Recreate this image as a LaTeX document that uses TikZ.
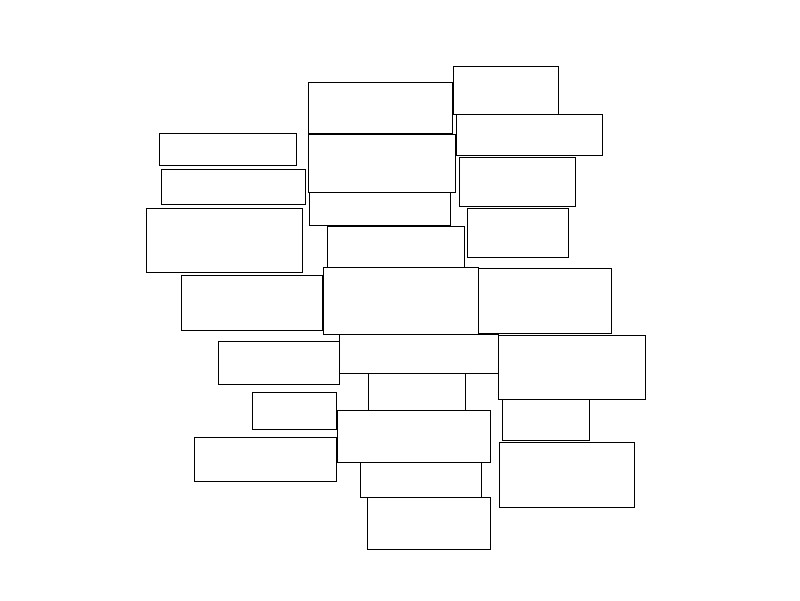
\documentclass[tikz,border=0pt]{standalone}
\begin{document}
\begin{tikzpicture}[x=1pt,y=-1pt,
  box/.style={draw=black, line width=1pt, inner sep=0pt, outer sep=0pt, anchor=north west}]
\useasboundingbox[fill=white] (0,0) rectangle (800,600);
% left column
\node[box, minimum width=137.4pt, minimum height=32pt] (r1) at (159.5,133.5) {};
\node[box, minimum width=144.4pt, minimum height=35pt] (r2) at (161.5,169.5) {};
\node[box, minimum width=156.4pt, minimum height=64pt] (r3) at (146.5,208.5) {};
\node[box, minimum width=141.4pt, minimum height=55pt] (r4) at (181.5,275.5) {};
\node[box, minimum width=121pt, minimum height=43pt] (r5) at (218.5,341.5) {};
\node[box, minimum width=84pt, minimum height=37pt] (r6) at (252.5,392.5) {};
\node[box, minimum width=142pt, minimum height=44pt] (r7) at (194.5,437.5) {};
% middle column
\node[box, minimum width=144pt, minimum height=51pt] (r8) at (308.5,82.5) {};
\node[box, minimum width=147pt, minimum height=58pt] (r9) at (308.5,134.5) {};
\node[box, minimum width=141pt, minimum height=32.7pt] (r10) at (309.5,192.5) {};
\node[box, minimum width=137pt, minimum height=41pt] (r11) at (327.5,226.5) {};
\node[box, minimum width=155pt, minimum height=67pt] (r12) at (323.5,267.5) {};
\node[box, minimum width=159pt, minimum height=39pt] (r13) at (339.5,334.5) {};
\node[box, minimum width=97pt, minimum height=37pt] (r14) at (368.5,373.5) {};
\node[box, minimum width=153.3pt, minimum height=52pt] (r15) at (337.2,410.5) {};
\node[box, minimum width=121pt, minimum height=35pt] (r16) at (360.5,462.5) {};
\node[box, minimum width=123pt, minimum height=52pt] (r17) at (367.5,497.5) {};
% right column
\node[box, minimum width=105pt, minimum height=47.7pt] (r18) at (453.5,66.5) {};
\node[box, minimum width=146pt, minimum height=41pt] (r19) at (456.5,114.5) {};
\node[box, minimum width=116pt, minimum height=49pt] (r20) at (459.5,157.5) {};
\node[box, minimum width=101pt, minimum height=49pt] (r21) at (467.5,208.5) {};
\node[box, minimum width=133pt, minimum height=65pt] (r22) at (478.5,268.5) {};
\node[box, minimum width=147pt, minimum height=64pt] (r23) at (498.5,335.5) {};
\node[box, minimum width=87pt, minimum height=41pt] (r24) at (502.5,399.5) {};
\node[box, minimum width=135pt, minimum height=65pt] (r25) at (499.5,442.5) {};
\end{tikzpicture}
\end{document}
